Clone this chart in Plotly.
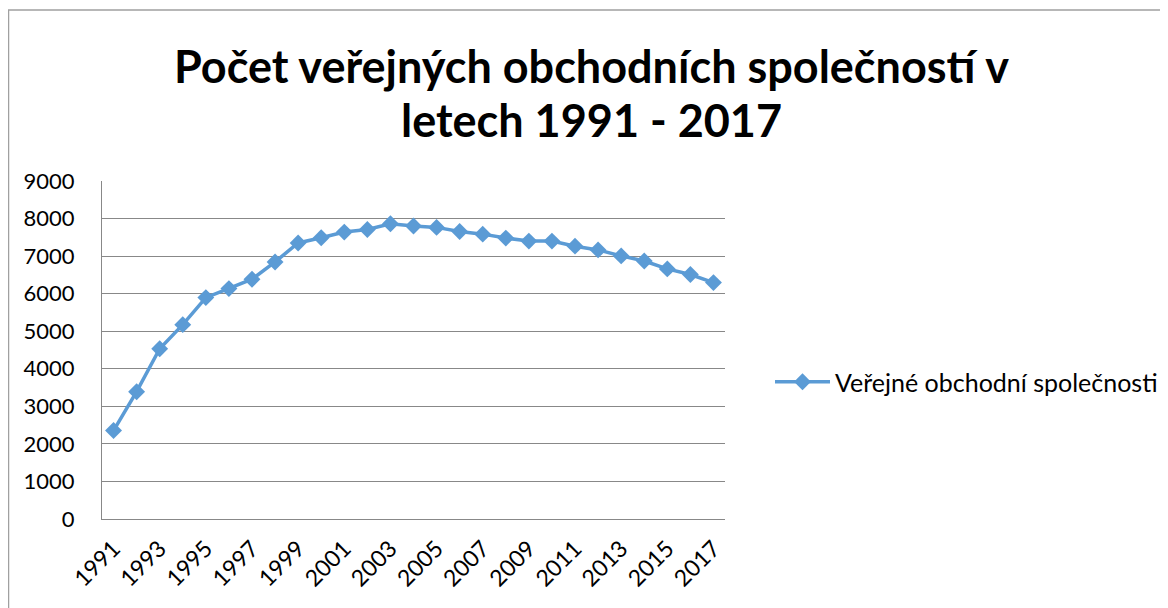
import plotly.graph_objects as go

# pocet verejnych obchodnich spolecnosti
years = list(range(1991, 2018))
counts = [2355, 3390, 4535, 5175, 5895, 6135, 6385, 6845, 7350, 7490,
          7640, 7710, 7860, 7800, 7765, 7655, 7585, 7480, 7400, 7400,
          7265, 7165, 7005, 6870, 6660, 6510, 6295]
series_name = "Veřejné obchodní společnosti"
title_lines = ["Počet veřejných obchodních společností v", "letech 1991 - 2017"]

# stranka ma 8px okraj, proto je figura o 8px mensi
W, H = 1160, 600
L, R, T, B = 94, 443, 173, 89
pw, ph = W - L - R, H - T - B

blue = "#5B9BD5"
grid = "#888888"
font = "Lato, Calibri, sans-serif"


def px_x(fx):
    return (fx - L) / pw


def px_y(fy):
    return (H - B - fy) / ph


fig = go.Figure()
fig.add_trace(go.Scatter(
    x=years, y=counts, name=series_name, mode="lines+markers",
    line=dict(color=blue, width=3.5),
    marker=dict(symbol="diamond", size=13, color=blue),
))

# nadpis jako dve anotace, aby sedely radky
for text, fy in zip(title_lines, [58, 112]):
    fig.add_annotation(text=text, xref="paper", yref="paper", x=px_x(583), y=px_y(fy),
                       xanchor="center", yanchor="middle", showarrow=False,
                       font=dict(family=font, size=45, color="black", weight="bold"))

fig.update_layout(
    width=W, height=H,
    margin=dict(l=L, r=R, t=T, b=B, autoexpand=False),
    paper_bgcolor="white", plot_bgcolor="white",
    font=dict(family=font, size=22, color="black"),
    showlegend=True,
    legend=dict(x=px_x(762), y=px_y(374), xanchor="left", yanchor="middle",
                itemwidth=55, font=dict(size=25), bgcolor="rgba(0,0,0,0)"),
    xaxis=dict(range=[1990.5, 2017.5], tick0=1991, dtick=2, tickangle=-45,
               showgrid=False, showline=True, linecolor=grid, linewidth=1,
               zeroline=False, ticks="outside", ticklen=6, tickcolor="rgba(0,0,0,0)",
               tickfont=dict(size=23)),
    yaxis=dict(range=[0, 9000], dtick=1000, showgrid=True, gridcolor=grid, gridwidth=1,
               showline=True, linecolor=grid, linewidth=1, zeroline=False,
               ticks="outside", ticklen=22, tickcolor="rgba(0,0,0,0)",
               tickfont=dict(size=22)),
    shapes=[dict(type="rect", xref="paper", yref="paper",
                 x0=px_x(0.5), x1=px_x(W + 10), y0=px_y(H + 10), y1=px_y(2),
                 line=dict(color="#A0A0A0", width=1.5), layer="below")],
)

fig.write_html("out.html")
